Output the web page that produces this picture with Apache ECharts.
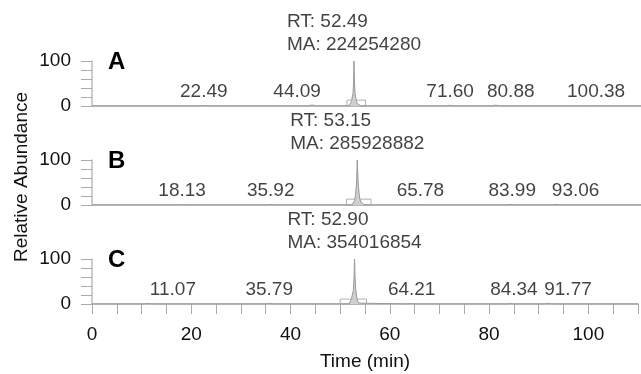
<!DOCTYPE html>
<html>
<head>
<meta charset="utf-8">
<script src="https://cdn.jsdelivr.net/npm/echarts@6/dist/echarts.min.js"></script>
<style>
html,body{margin:0;padding:0;background:#fff;}
#chart{width:641px;height:374px;}
</style>
</head>
<body>
<div id="chart"></div>
<script>
// ---- data ----
const panelNames = ['A', 'B', 'C'];
const mainRT = [52.49, 53.15, 52.90];
const mainMA = [224254280, 285928882, 354016854];

// chromatogram traces [time (min), relative abundance]
const traceA = [[0,0],[21.8,0],[22.49,1.2],[23.2,0],[43.4,0],[44.09,2.5],[44.8,0],[51.5,0],[51.8,4],[52.0,10],[52.15,20],[52.3,28],[52.4,50],[52.49,100],[52.58,55],[52.7,30],[52.85,18],[53.0,10],[53.2,5],[53.5,1.5],[53.9,0],[71.0,0],[71.6,1.8],[72.2,0],[80.2,0],[80.88,2],[81.6,0],[99.8,0],[100.38,1],[101,0],[110,0]];
const traceB = [[0,0],[17.5,0],[18.13,1],[18.8,0],[35.3,0],[35.92,1.2],[36.5,0],[52.1,0],[52.4,4],[52.6,10],[52.8,22],[52.95,40],[53.05,62],[53.15,100],[53.25,70],[53.35,45],[53.5,28],[53.65,14],[53.9,6],[54.2,2],[54.6,0],[65.2,0],[65.78,1.2],[66.4,0],[83.4,0],[83.99,1.5],[84.6,0],[92.4,0],[93.06,1.5],[93.7,0],[110,0]];
const traceC = [[0,0],[10.4,0],[11.07,1],[11.8,0],[35.1,0],[35.79,1.5],[36.5,0],[51.8,0],[52.1,4],[52.3,12],[52.5,24],[52.65,30],[52.78,55],[52.90,100],[53.0,60],[53.12,35],[53.3,18],[53.5,7],[53.8,2],[54.2,0],[63.6,0],[64.21,1.2],[64.9,0],[83.7,0],[84.34,1.2],[85.0,0],[91.1,0],[91.77,1.5],[92.4,0],[110,0]];
const traces = [traceA, traceB, traceC];

// minor peak retention times and where their labels sit (data x)
const minorRT = [
  [22.49, 44.09, 71.60, 80.88, 100.38],
  [18.13, 35.92, 65.78, 83.99, 93.06],
  [11.07, 35.79, 64.21, 84.34, 91.77]
];
const minorLabelX = [
  [22.4, 41.1, 71.75, 83.9, 101.0],
  [18.05, 35.8, 65.8, 84.2, 96.9],
  [16.3, 35.7, 64.4, 85.0, 95.9]
];

// integration boxes [start, end, height]
const boxes = [[51.1, 54.8, 13], [51.0, 55.9, 13], [50.0, 55.3, 11]];

const xTickLabels = [0, 20, 40, 60, 80, 100];
const yTickLabels = [0, 100];

// ---- chart ----
const FONT = 'Liberation Sans, Arial, Helvetica, sans-serif';
const TXT = '#111';
const AX = '#bdbdbd';
const gridTops = [61, 160, 259];
const chart = echarts.init(document.getElementById('chart'), null, {renderer: 'canvas'});

const grids = [], xAxes = [], yAxes = [], series = [];
for (let i = 0; i < 3; i++) {
  grids.push({left: 92, right: -2, top: gridTops[i], height: 45});
  const bottom = i === 2;
  xAxes.push({
    type: 'value', gridIndex: i, min: 0, max: 110, interval: 5,
    axisLine: {show: true, lineStyle: {color: AX, width: 2}},
    axisTick: {show: bottom, length: 10, lineStyle: {color: '#aaa', width: 1}},
    axisLabel: {show: bottom, margin: 21, color: TXT, fontFamily: FONT, fontSize: 19,
      formatter: v => xTickLabels.indexOf(v) >= 0 ? String(v) : ''},
    splitLine: {show: false},
    name: bottom ? 'Time (min)' : '', nameLocation: 'middle', nameGap: 48,
    nameTextStyle: {color: TXT, fontFamily: FONT, fontSize: 19}
  });
  yAxes.push({
    type: 'value', gridIndex: i, min: 0, max: 100, interval: 20,
    axisLine: {show: true, lineStyle: {color: AX, width: 1.5}},
    axisTick: {show: true, length: 11, lineStyle: {color: '#aaa', width: 1}},
    axisLabel: {margin: 21, color: TXT, fontFamily: FONT, fontSize: 19,
      formatter: v => yTickLabels.indexOf(v) >= 0 ? String(v) : ''},
    splitLine: {show: false}
  });
  const b = boxes[i];
  series.push({
    type: 'line', xAxisIndex: i, yAxisIndex: i, data: traces[i],
    symbol: 'none', silent: true,
    lineStyle: {color: '#999', width: 1},
    areaStyle: {color: '#cfcfcf', opacity: 1},
    markArea: {silent: true, itemStyle: {color: 'rgba(0,0,0,0)', borderColor: '#b0b0b0', borderWidth: 1},
      data: [[{xAxis: b[0], yAxis: 0}, {xAxis: b[1], yAxis: b[2]}]]}
  });
  series.push({
    type: 'scatter', xAxisIndex: i, yAxisIndex: i, symbolSize: 0, silent: true,
    data: [{value: [mainRT[i], 100], name: 'main'}],
    label: {show: true, position: 'top', distance: 5, align: 'center',
      formatter: () => '{a|RT: ' + mainRT[i].toFixed(2) + '}\n{a|MA: ' + mainMA[i] + '}',
      rich: {a: {align: 'left', color: TXT, fontFamily: FONT, fontSize: 19, lineHeight: 23}}}
  });
  series.push({
    type: 'scatter', xAxisIndex: i, yAxisIndex: i, symbolSize: 0, silent: true,
    data: minorLabelX[i].map((x, k) => ({value: [x, 0], name: minorRT[i][k].toFixed(2)})),
    label: {show: true, position: 'top', distance: 5, color: TXT, fontFamily: FONT, fontSize: 19,
      formatter: p => p.name}
  });
}

const graphics = panelNames.map((n, i) => ({
  type: 'text', x: 108, y: gridTops[i] + 1,
  style: {text: n, font: 'bold 24px ' + FONT, fill: '#000', verticalAlign: 'middle', align: 'left'}
}));
graphics.push({
  type: 'text', x: 22, y: 177, rotation: Math.PI / 2,
  style: {text: 'Relative Abundance', font: '19px ' + FONT, fill: TXT, align: 'center', verticalAlign: 'middle'}
});

chart.setOption({
  animation: false,
  backgroundColor: '#fff',
  grid: grids, xAxis: xAxes, yAxis: yAxes, series: series, graphic: graphics
});
</script>
</body>
</html>
